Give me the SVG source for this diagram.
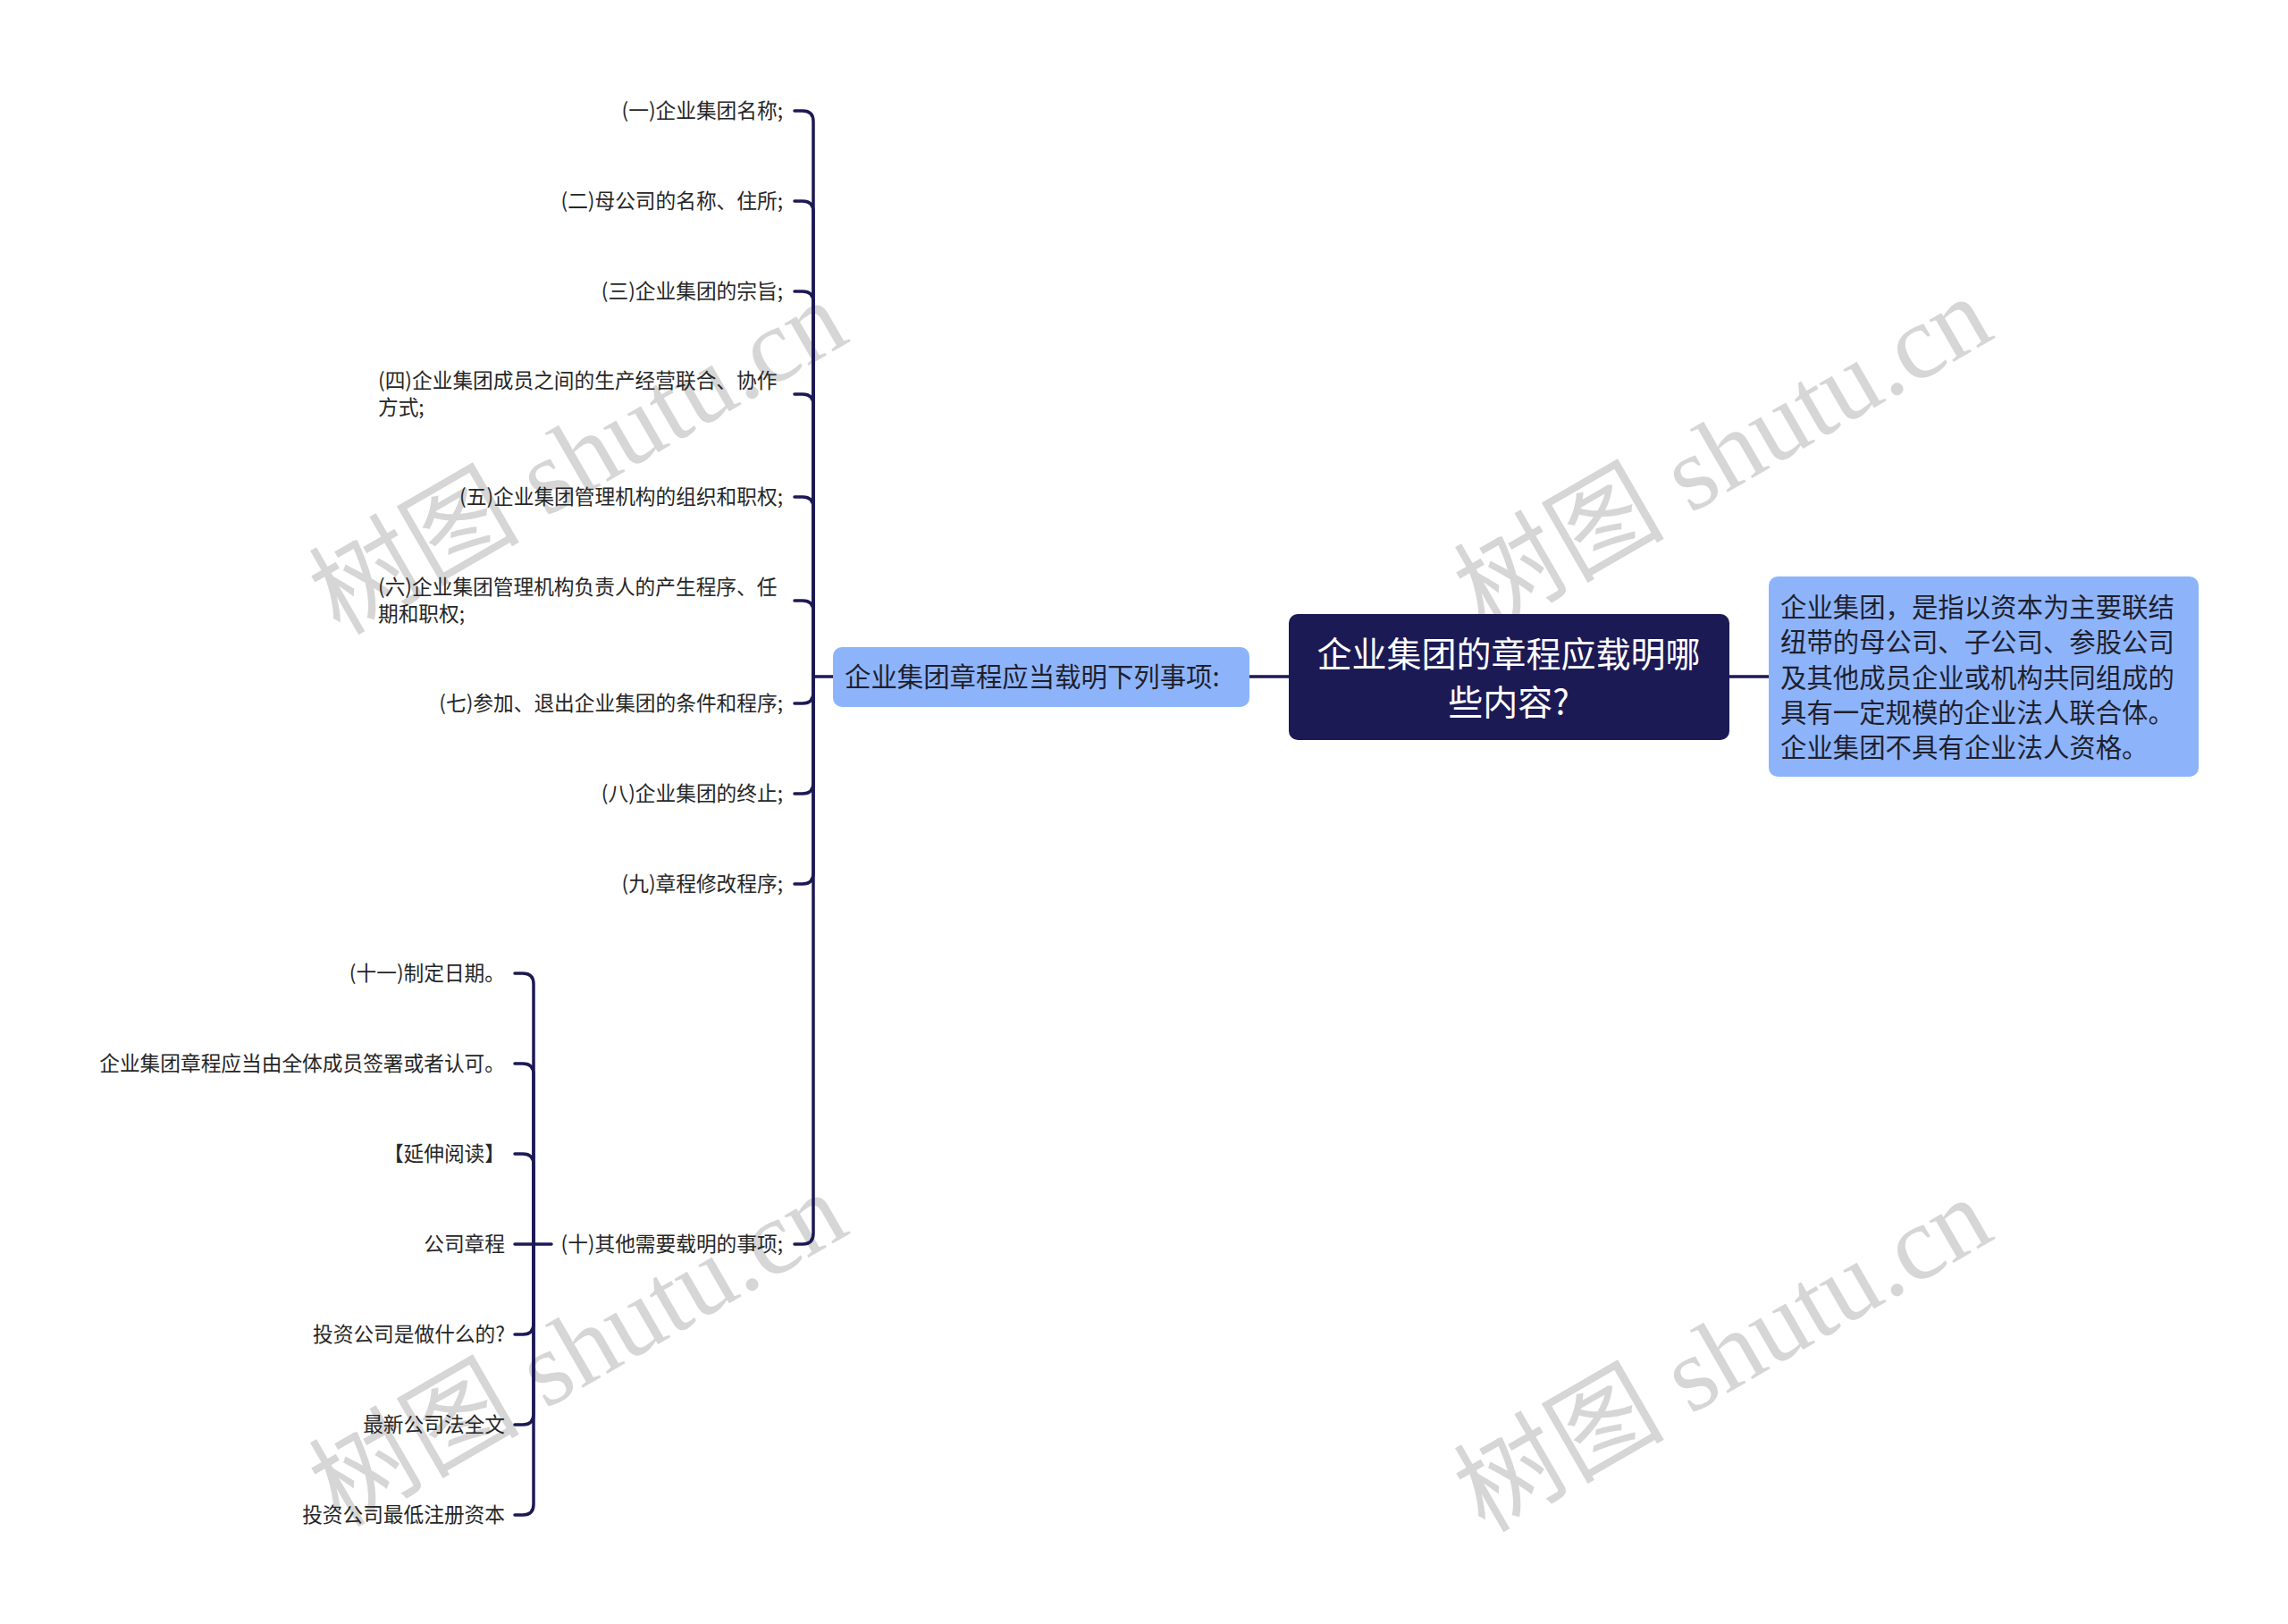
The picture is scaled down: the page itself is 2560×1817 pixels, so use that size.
<svg xmlns="http://www.w3.org/2000/svg" width="2560" height="1817" viewBox="0 0 2560 1817">
<style>
.wm{font-family:"Liberation Serif","Noto Sans CJK SC",serif;font-size:118px;fill:#d6d6d6;text-anchor:middle;dominant-baseline:central}
.t{font-family:"Noto Sans CJK SC","Noto Sans",sans-serif;font-size:22.7px;fill:#262626;dominant-baseline:central}
.r{text-anchor:end}
.c{fill:none;stroke:#1c1a55;stroke-width:3.5;stroke-linecap:round;stroke-linejoin:round}
.mid{font-family:"Noto Sans CJK SC","Noto Sans",sans-serif;font-size:29.4px;fill:#1f1f2e;dominant-baseline:central}
.root{font-family:"Noto Sans CJK SC","Noto Sans",sans-serif;font-size:39px;fill:#ffffff;text-anchor:middle;dominant-baseline:central}
</style>
<rect x="0" y="0" width="2560" height="1817" fill="#ffffff"/>
<g id="watermarks">
<text class="wm" transform="translate(647,512) rotate(-30)">树图 shutu.cn</text>
<text class="wm" transform="translate(1928,508) rotate(-30)">树图 shutu.cn</text>
<text class="wm" transform="translate(647,1510) rotate(-30)">树图 shutu.cn</text>
<text class="wm" transform="translate(1928,1516) rotate(-30)">树图 shutu.cn</text>
</g>
<g id="connectors">
<path class="c" d="M1442 757 H1398"/>
<path class="c" d="M1935 757 H1979"/>
<path class="c" d="M932 757 H910"/>
<path class="c" d="M889 124 H898 Q910 124 910 136 V757"/>
<path class="c" d="M889 225 H898 Q910 225 910 237 V757"/>
<path class="c" d="M889 326 H898 Q910 326 910 338 V757"/>
<path class="c" d="M889 441 H898 Q910 441 910 453 V757"/>
<path class="c" d="M889 556 H898 Q910 556 910 568 V757"/>
<path class="c" d="M889 672 H898 Q910 672 910 684 V757"/>
<path class="c" d="M889 787 H898 Q910 787 910 775 V757"/>
<path class="c" d="M889 888 H898 Q910 888 910 876 V757"/>
<path class="c" d="M889 989 H898 Q910 989 910 977 V757"/>
<path class="c" d="M889 1392 H898 Q910 1392 910 1380 V757"/>
<path class="c" d="M617 1392 H597"/>
<path class="c" d="M576 1089 H585 Q597 1089 597 1101 V1392"/>
<path class="c" d="M576 1190 H585 Q597 1190 597 1202 V1392"/>
<path class="c" d="M576 1291 H585 Q597 1291 597 1303 V1392"/>
<path class="c" d="M576 1392 H597"/>
<path class="c" d="M576 1493 H585 Q597 1493 597 1481 V1392"/>
<path class="c" d="M576 1594 H585 Q597 1594 597 1582 V1392"/>
<path class="c" d="M576 1695 H585 Q597 1695 597 1683 V1392"/>
</g>
<g id="root">
<rect x="1442" y="687" width="493" height="141" rx="10" fill="#1c1a55"/>
<text class="root" x="1688" y="729">企业集团的章程应载明哪</text>
<text class="root" x="1688" y="783">些内容?</text>
</g>
<g id="definition">
<rect x="1979" y="645" width="481" height="224" rx="10" fill="#8db4fa"/>
<text class="mid" x="1992" y="677">企业集团，是指以资本为主要联结</text>
<text class="mid" x="1992" y="716">纽带的母公司、子公司、参股公司</text>
<text class="mid" x="1992" y="756">及其他成员企业或机构共同组成的</text>
<text class="mid" x="1992" y="795">具有一定规模的企业法人联合体。</text>
<text class="mid" x="1992" y="834">企业集团不具有企业法人资格。</text>
</g>
<g id="items-head">
<rect x="932" y="724" width="466" height="67" rx="10" fill="#8db4fa"/>
<text class="mid" x="945" y="755">企业集团章程应当载明下列事项:</text>
</g>
<g id="item1"><text class="t r" x="876" y="122">(一)企业集团名称;</text></g>
<g id="item2"><text class="t r" x="876" y="223">(二)母公司的名称、住所;</text></g>
<g id="item3"><text class="t r" x="876" y="324">(三)企业集团的宗旨;</text></g>
<g id="item4"><text class="t" x="423" y="424">(四)企业集团成员之间的生产经营联合、协作</text><text class="t" x="423" y="454">方式;</text></g>
<g id="item5"><text class="t r" x="876" y="554">(五)企业集团管理机构的组织和职权;</text></g>
<g id="item6"><text class="t" x="423" y="655">(六)企业集团管理机构负责人的产生程序、任</text><text class="t" x="423" y="685">期和职权;</text></g>
<g id="item7"><text class="t r" x="876" y="785">(七)参加、退出企业集团的条件和程序;</text></g>
<g id="item8"><text class="t r" x="876" y="886">(八)企业集团的终止;</text></g>
<g id="item9"><text class="t r" x="876" y="987">(九)章程修改程序;</text></g>
<g id="item10"><text class="t r" x="876" y="1390">(十)其他需要载明的事项;</text></g>
<g id="sub1"><text class="t r" x="565" y="1087">(十一)制定日期。</text></g>
<g id="sub2"><text class="t r" x="565" y="1188">企业集团章程应当由全体成员签署或者认可。</text></g>
<g id="sub3"><text class="t r" x="565" y="1289">【延伸阅读】</text></g>
<g id="sub4"><text class="t r" x="565" y="1390">公司章程</text></g>
<g id="sub5"><text class="t r" x="565" y="1491">投资公司是做什么的?</text></g>
<g id="sub6"><text class="t r" x="565" y="1592">最新公司法全文</text></g>
<g id="sub7"><text class="t r" x="565" y="1693">投资公司最低注册资本</text></g>
</svg>
